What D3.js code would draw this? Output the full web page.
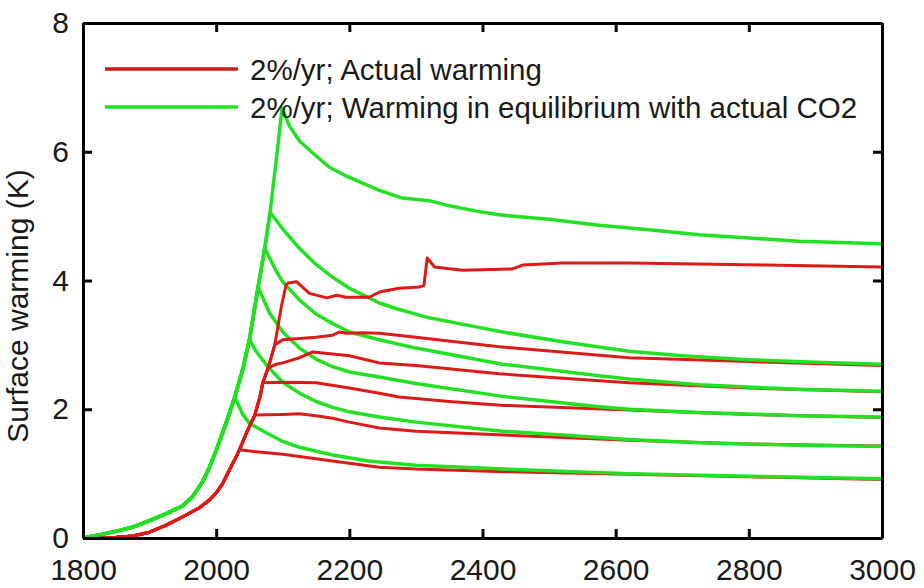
<!DOCTYPE html>
<html>
<head>
<meta charset="utf-8">
<script src="https://cdn.jsdelivr.net/npm/d3@7"></script>
<style>
  body { margin: 0; background: #fff; }
  svg text { font-family: "Liberation Sans", Arial, sans-serif; fill: #1a1a1a; }
</style>
</head>
<body>
<svg id="chart" width="924" height="588"></svg>
<script>
// shared rise before emissions stop, [year, K]
var greenRise = [[1800, 0], [1830, 0.06], [1860, 0.13], [1875, 0.17], [1900, 0.27], [1925, 0.38],
    [1950, 0.5], [1965, 0.65], [1980, 0.88], [1990, 1.1], [2000, 1.36], [2010, 1.64], [2020, 1.94],
    [2028, 2.19], [2040, 2.62], [2050, 3.08], [2063, 3.9], [2073, 4.5], [2081, 5.06], [2090, 5.85],
    [2099, 6.68]];
var redRise = [[1800, 0], [1830, 0.0], [1850, 0.01], [1875, 0.03], [1900, 0.09], [1925, 0.2],
    [1950, 0.33], [1975, 0.47], [1990, 0.59], [2000, 0.7], [2010, 0.85], [2020, 1.06], [2030, 1.26],
    [2035, 1.37], [2045, 1.62], [2058, 1.91], [2066, 2.2], [2070, 2.41], [2078, 2.64], [2088, 3.0],
    [2098, 3.6], [2105, 3.93]];

// year the rise stops for each run
var greenStops = [2028, 2050, 2063, 2073, 2081, 2099];
var redStops = [2035, 2058, 2070, 2078, 2088, 2105];

// equilibrium warming after the stop
var greenTails = [
    [[2040, 1.92], [2050, 1.78], [2076, 1.63], [2100, 1.5], [2125, 1.41], [2175, 1.29], [2226, 1.2], [2245, 1.18],
     [2300, 1.13], [2433, 1.07], [2620, 1.0], [2800, 0.96], [3000, 0.92]],
    [[2060, 2.9], [2076, 2.68], [2100, 2.42], [2125, 2.25], [2150, 2.12], [2175, 2.03], [2200, 1.96],
     [2245, 1.88], [2300, 1.8], [2430, 1.66], [2520, 1.6], [2620, 1.53], [2725, 1.48], [2875, 1.44], [3000, 1.42]],
    [[2080, 3.5], [2100, 3.2], [2125, 2.95], [2150, 2.78], [2175, 2.66], [2200, 2.58], [2245, 2.5],
     [2300, 2.4], [2430, 2.2], [2575, 2.04], [2620, 2.0], [2725, 1.95], [2875, 1.9], [3000, 1.88]],
    [[2090, 4.15], [2100, 3.98], [2125, 3.7], [2150, 3.48], [2175, 3.33], [2200, 3.2], [2245, 3.08],
     [2300, 2.95], [2430, 2.7], [2575, 2.52], [2620, 2.47], [2725, 2.38], [2875, 2.31], [3000, 2.28]],
    [[2100, 4.8], [2125, 4.5], [2150, 4.25], [2175, 4.05], [2200, 3.88], [2226, 3.75], [2245, 3.65],
     [2275, 3.55], [2320, 3.42], [2400, 3.26], [2430, 3.2], [2520, 3.05], [2620, 2.9], [2700, 2.83],
     [2800, 2.77], [2900, 2.73], [3000, 2.7]],
    [[2110, 6.4], [2125, 6.17], [2145, 5.98], [2170, 5.76], [2196, 5.62], [2245, 5.4], [2280, 5.28],
     [2320, 5.24], [2350, 5.16], [2395, 5.07], [2425, 5.02], [2500, 4.95], [2575, 4.86], [2650, 4.79],
     [2725, 4.71], [2800, 4.66], [2875, 4.61], [3000, 4.57]]
];

// actual warming after the stop
var redTails = [
    [[2060, 1.34], [2100, 1.3], [2150, 1.23], [2200, 1.16], [2245, 1.1], [2300, 1.07], [2433, 1.03],
     [2620, 0.99], [2800, 0.95], [3000, 0.91]],
    [[2100, 1.92], [2125, 1.93], [2150, 1.9], [2175, 1.86], [2200, 1.8], [2245, 1.71], [2300, 1.66],
     [2433, 1.6], [2620, 1.52], [2800, 1.46], [3000, 1.43]],
    [[2100, 2.42], [2150, 2.41], [2200, 2.33], [2245, 2.25], [2275, 2.19], [2350, 2.12], [2433, 2.06],
     [2620, 1.99], [2800, 1.92], [3000, 1.87]],
    [[2090, 2.7], [2100, 2.72], [2125, 2.8], [2145, 2.89], [2175, 2.86], [2200, 2.83], [2245, 2.72],
     [2300, 2.68], [2425, 2.55], [2620, 2.41], [2800, 2.33], [3000, 2.27]],
    [[2100, 3.08], [2125, 3.1], [2150, 3.12], [2175, 3.15], [2185, 3.2], [2195, 3.18], [2220, 3.19],
     [2245, 3.18], [2300, 3.12], [2425, 2.97], [2620, 2.8], [2800, 2.74], [3000, 2.68]],
    [[2108, 3.96], [2121, 3.98], [2140, 3.8], [2166, 3.73], [2181, 3.77], [2195, 3.74], [2230, 3.74],
     [2245, 3.82], [2275, 3.88], [2305, 3.9], [2312, 3.92], [2317, 4.35], [2328, 4.21], [2370, 4.16],
     [2445, 4.18], [2460, 4.24], [2520, 4.27], [2620, 4.27], [2826, 4.24], [3000, 4.21]]
];

var xTicks = [1800, 2000, 2200, 2400, 2600, 2800, 3000];
var yTicks = [0, 2, 4, 6, 8];
var legendLabels = ["2%/yr; Actual warming", "2%/yr; Warming in equilibrium with actual CO2"];

var red = "#dc1a1a", green = "#22e022";

var svg = d3.select("#chart");
var x = d3.scaleLinear().domain([1800, 3000]).range([83, 882]);
var y = d3.scaleLinear().domain([0, 8]).range([538, 23]);

var line = d3.line()
    .x(d => x(d[0]))
    .y(d => y(d[1]));

function run(rise, stop, tail) {
    return rise.filter(d => d[0] <= stop).concat(tail);
}

var plot = svg.append("g");
for (var i = 0; i < greenTails.length; i++) {
    plot.append("path")
        .attr("d", line(run(redRise, redStops[i], redTails[i])))
        .attr("fill", "none")
        .attr("stroke", red)
        .attr("stroke-width", 3)
        .attr("stroke-linejoin", "round");
    plot.append("path")
        .attr("d", line(run(greenRise, greenStops[i], greenTails[i])))
        .attr("fill", "none")
        .attr("stroke", green)
        .attr("stroke-width", 3.5)
        .attr("stroke-linejoin", "round");
}

// frame with inward ticks on all four sides
var axisG = svg.append("g");
axisG.append("g")
    .attr("transform", `translate(0,${y(0)})`)
    .call(d3.axisBottom(x).tickValues(xTicks).tickFormat(d3.format("d"))
        .tickSizeInner(-9).tickSizeOuter(0).tickPadding(21));
axisG.append("g")
    .attr("transform", `translate(0,${y(8)})`)
    .call(d3.axisTop(x).tickValues(xTicks).tickSizeInner(-9).tickSizeOuter(0).tickFormat(""));
axisG.append("g")
    .attr("transform", `translate(${x(1800)},0)`)
    .call(d3.axisLeft(y).tickValues(yTicks).tickSizeInner(-9).tickSizeOuter(0).tickPadding(14));
axisG.append("g")
    .attr("transform", `translate(${x(3000)},0)`)
    .call(d3.axisRight(y).tickValues(yTicks).tickSizeInner(-9).tickSizeOuter(0).tickFormat(""));

axisG.selectAll(".domain").attr("stroke", "#000").attr("stroke-width", 3);
axisG.selectAll(".tick line").attr("stroke", "#000").attr("stroke-width", 3);
axisG.selectAll(".tick text")
    .style("font-size", "30px")
    .style("font-family", "'Liberation Sans', Arial, sans-serif")
    .attr("fill", "#1a1a1a");

svg.append("text")
    .attr("transform", "translate(28,306) rotate(-90)")
    .attr("text-anchor", "middle")
    .style("font-size", "30px")
    .text("Surface warming (K)");

var legend = svg.append("g");
legend.selectAll("line")
    .data(legendLabels)
    .join("line")
    .attr("x1", 105).attr("x2", 238)
    .attr("y1", (d, i) => 69 + i * 38)
    .attr("y2", (d, i) => 69 + i * 38)
    .attr("stroke", (d, i) => i == 0 ? "#cc1c1c" : green)
    .attr("stroke-width", 3.5);
legend.selectAll("text")
    .data(legendLabels)
    .join("text")
    .attr("x", 250)
    .attr("y", (d, i) => 80 + i * 38)
    .style("font-size", "29.5px")
    .text(d => d);
</script>
</body>
</html>
